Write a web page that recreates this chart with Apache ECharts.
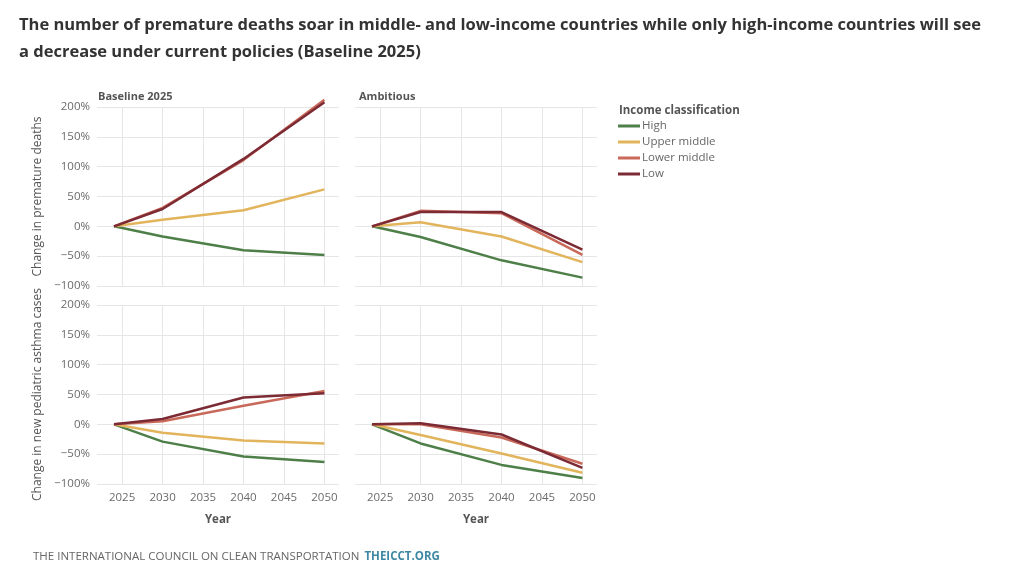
<!DOCTYPE html>
<html>
<head>
<meta charset="utf-8">
<script src="https://cdn.jsdelivr.net/npm/echarts@6/dist/echarts.min.js"></script>
<style>
  html, body { margin: 0; padding: 0; background: #fff; }
  #container { width: 1024px; height: 579px; }
</style>
</head>
<body>
<div id="container"></div>
<script>
var years = [2024, 2030, 2040, 2050];
var groups = ['High', 'Upper middle', 'Lower middle', 'Low'];
var colors = ['#4e7f48', '#e2b45c', '#c9695a', '#7c2b35'];
var yearTicks = [2025, 2030, 2035, 2040, 2045, 2050];

// premature deaths, % change
var deathsBaseline = [
	[0, -17, -40, -48],
	[0, 11, 27, 62],
	[0, 31, 111, 212],
	[0, 29, 113, 208]
];
var deathsAmbitious = [
	[0, -18, -57, -86],
	[0, 7, -17, -60],
	[0, 26, 22, -48],
	[0, 24, 24, -39]
];
// new pediatric asthma cases, % change
var asthmaBaseline = [
	[0, -29, -54, -63],
	[0, -14, -27, -32],
	[0, 5, 31, 56],
	[0, 9, 45, 52]
];
var asthmaAmbitious = [
	[0, -32, -68, -90],
	[0, -18, -49, -81],
	[0, 0, -22, -66],
	[0, 2, -17, -73]
];

var panels = [deathsBaseline, deathsAmbitious, asthmaBaseline, asthmaAmbitious];

function pie() {
	var dom = document.getElementById("container");
	var myChart = echarts.init(dom, null, { renderer: 'canvas' });
	var font = 'Open Sans';
	var labelColor = '#6b6b6b';

	var grids = [
		{ left: 97, top: 107, width: 242, height: 179 },
		{ left: 355, top: 107, width: 242, height: 179 },
		{ left: 97, top: 305, width: 242, height: 179 },
		{ left: 355, top: 305, width: 242, height: 179 }
	];

	var xAxes = [], yAxes = [], series = [];
	for (var g = 0; g < 4; g++) {
		xAxes.push({
			gridIndex: g,
			type: 'value',
			min: 2021.9,
			max: 2051.8,
			axisLine: { show: false },
			axisTick: { show: false, customValues: yearTicks },
			axisLabel: {
				show: g >= 2,
				customValues: yearTicks,
				formatter: function (v) { return String(v); },
				color: labelColor,
				fontFamily: font,
				fontSize: 11.5,
				margin: 8
			},
			splitLine: { show: true, lineStyle: { color: '#e6e6e6', width: 1 } },
			name: g >= 2 ? 'Year' : '',
			nameLocation: 'middle',
			nameGap: 30,
			nameTextStyle: { color: '#555', fontFamily: font, fontSize: 11.5, fontWeight: 'bold' }
		});
		yAxes.push({
			gridIndex: g,
			type: 'value',
			min: -100,
			max: 200,
			interval: 50,
			axisLine: { show: false },
			axisTick: { show: false },
			axisLabel: {
				show: g % 2 === 0,
				formatter: function (v) { return (v < 0 ? '\u2212' + (-v) : v) + '%'; },
				color: labelColor,
				fontFamily: font,
				fontSize: 11.5,
				margin: 7
			},
			splitLine: { show: true, lineStyle: { color: '#e6e6e6', width: 1 } },
			name: g === 0 ? 'Change in premature deaths' : (g === 2 ? 'Change in new pediatric asthma cases' : ''),
			nameLocation: 'middle',
			nameGap: 53,
			nameTextStyle: { color: '#555', fontFamily: font, fontSize: 12 }
		});
		for (var s = 0; s < groups.length; s++) {
			var pts = [];
			for (var i = 0; i < years.length; i++) {
				pts.push([years[i], panels[g][s][i]]);
			}
			series.push({
				name: groups[s],
				type: 'line',
				xAxisIndex: g,
				yAxisIndex: g,
				data: pts,
				symbol: 'none',
				clip: false,
				lineStyle: { color: colors[s], width: 2.5 },
				itemStyle: { color: colors[s] },
				z: 2 + s
			});
		}
	}

	var option = {
		animation: false,
		title: [
			{
				text: 'The number of premature deaths soar in middle- and low-income countries while only high-income countries will see\na decrease under current policies (Baseline 2025)',
				left: 14, top: 7,
				textStyle: { fontFamily: font, fontSize: 16.5, fontWeight: 'bold', color: '#333', lineHeight: 27 }
			},
			{ text: 'Baseline 2025', left: 93, top: 86, textStyle: { fontFamily: font, fontSize: 11, fontWeight: 'bold', color: '#555' } },
			{ text: 'Ambitious', left: 354, top: 86, textStyle: { fontFamily: font, fontSize: 11, fontWeight: 'bold', color: '#555' } },
			{ text: 'Income classification', left: 614, top: 100, textStyle: { fontFamily: font, fontSize: 11.5, fontWeight: 'bold', color: '#555' } },
			{
				text: '{a|THE INTERNATIONAL COUNCIL ON CLEAN TRANSPORTATION} {b|THEICCT.ORG}',
				left: 28, top: 543,
				textStyle: {
					rich: {
						a: { fontFamily: font, fontSize: 11.5, fontWeight: 'normal', color: '#666' },
						b: { fontFamily: font, fontSize: 11.5, color: '#3f88a3', fontWeight: 'bold' }
					}
				}
			}
		],
		legend: {
			orient: 'vertical',
			left: 613,
			top: 115,
			itemWidth: 22,
			itemHeight: 3,
			itemGap: 4,
			icon: 'rect',
			data: groups,
			textStyle: { fontFamily: font, fontSize: 11.5, color: '#666', padding: [0, 0, 0, -3] }
		},
		grid: grids,
		xAxis: xAxes,
		yAxis: yAxes,
		series: series
	};
	myChart.setOption(option, true);
}
pie();
</script>
</body>
</html>
